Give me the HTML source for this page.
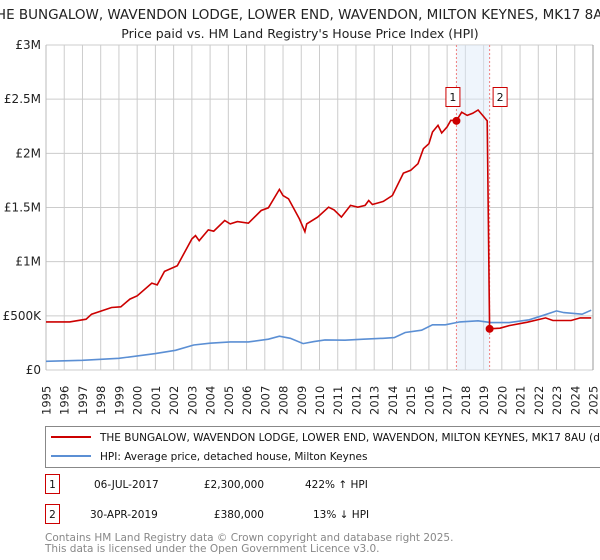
<!DOCTYPE html>
<html><head><meta charset="utf-8">
<style>
body{margin:0;width:600px;height:560px;background:#fff;font-family:"Liberation Sans","DejaVu Sans",sans-serif;overflow:hidden}
svg{position:absolute;left:0;top:0}
text{font-family:"DejaVu Sans","Liberation Sans",sans-serif}
</style></head>
<body>
<svg id="chart" width="600" height="560">
  <text x="300" y="19" text-anchor="middle" font-size="13.5" fill="#222">THE BUNGALOW, WAVENDON LODGE, LOWER END, WAVENDON, MILTON KEYNES, MK17 8AU</text>
  <text x="300" y="38" text-anchor="middle" font-size="12.5" fill="#222">Price paid vs. HM Land Registry's House Price Index (HPI)</text>
  <g id="grid"></g>
  <g id="band"></g>
  <g id="yticks"></g>
  <g id="xticks"></g>
  <g id="series"></g>
  <g id="markers"></g>
  <g>
    <rect x="45.5" y="426.5" width="570" height="41" fill="#fff" stroke="#888"/>
    <line x1="51" y1="437" x2="91" y2="437" stroke="#cc0000" stroke-width="2"/>
    <text x="100" y="441" font-size="10.5" fill="#111">THE BUNGALOW, WAVENDON LODGE, LOWER END, WAVENDON, MILTON KEYNES, MK17 8AU (detached house)</text>
    <line x1="51" y1="456" x2="91" y2="456" stroke="#5b8fd4" stroke-width="2"/>
    <text x="100" y="460" font-size="10.5" fill="#111">HPI: Average price, detached house, Milton Keynes</text>
  </g>
  <g font-size="10.5" fill="#111">
    <rect x="45.5" y="474.5" width="14" height="19" fill="#fff" stroke="#cc0000"/>
    <text x="52.5" y="488" text-anchor="middle">1</text>
    <text x="94" y="488">06-JUL-2017</text>
    <text x="264" y="488" text-anchor="end">£2,300,000</text>
    <text x="305" y="488">422% ↑ HPI</text>
    <rect x="45.5" y="504.5" width="14" height="19" fill="#fff" stroke="#cc0000"/>
    <text x="52.5" y="518" text-anchor="middle">2</text>
    <text x="90" y="518">30-APR-2019</text>
    <text x="264" y="518" text-anchor="end">£380,000</text>
    <text x="313" y="518">13% ↓ HPI</text>
  </g>
  <text x="45" y="541" font-size="10.5" fill="#888">Contains HM Land Registry data © Crown copyright and database right 2025.</text>
  <text x="45" y="552" font-size="10.5" fill="#888">This data is licensed under the Open Government Licence v3.0.</text>
</svg>
<script>
const yearTicks=[1995,1996,1997,1998,1999,2000,2001,2002,2003,2004,2005,2006,2007,2008,2009,2010,2011,2012,2013,2014,2015,2016,2017,2018,2019,2020,2021,2022,2023,2024,2025];
const priceTicks=[0,500,1000,1500,2000,2500,3000];
const priceTickLabels=["£0","£500K","£1M","£1.5M","£2M","£2.5M","£3M"];
const redYears=[1995,1996.3,1997.2,1997.5,1998.6,1999.1,1999.6,2000,2000.8,2001.1,2001.5,2002.2,2003,2003.2,2003.4,2003.9,2004.2,2004.8,2005.1,2005.5,2006.1,2006.8,2007.2,2007.8,2008,2008.3,2008.9,2009.2,2009.3,2009.9,2010.5,2010.8,2011.2,2011.7,2012.1,2012.5,2012.7,2012.9,2013.5,2014,2014.6,2015,2015.4,2015.7,2016,2016.2,2016.5,2016.7,2017,2017.2,2017.51,2017.8,2018.1,2018.4,2018.7,2019.0,2019.2,2019.33,2019.9,2020.4,2021.4,2022.4,2022.8,2023.8,2024.3,2024.9];
const redValues=[444,444,469,515,577,583,654,685,802,786,910,963,1210,1241,1194,1293,1281,1380,1349,1370,1355,1472,1497,1667,1611,1580,1395,1277,1349,1411,1503,1478,1411,1519,1503,1519,1565,1528,1556,1611,1818,1843,1904,2043,2089,2197,2259,2188,2244,2305,2300,2380,2350,2370,2400,2340,2300,380,386,410,441,481,457,457,481,481];
const hpiYears=[1995,1997,1999,2001,2002.1,2003.1,2004,2005.1,2006.1,2007.2,2007.8,2008.4,2009.1,2009.7,2010.3,2011.4,2012.4,2013.5,2014.1,2014.7,2015.6,2016.2,2016.9,2017.7,2018.7,2019.4,2020.4,2021.5,2022.3,2023,2023.4,2024.4,2024.9];
const hpiValues=[80,90,108,151,182,231,247,259,259,284,312,293,244,262,278,275,284,293,299,346,367,417,417,444,454,438,438,463,506,546,530,515,552];
const saleYears=[2017.51,2019.33];
const saleValues=[2300,380];
const saleLabels=["1","2"];

const NS="http://www.w3.org/2000/svg";
const X0=46,X1=593,Y0=370,Y1=45;
const xs=y=>X0+(y-1995)/30*(X1-X0);
const ys=v=>Y0-v/3000*(Y0-Y1);
function mk(tag,attrs,parent){const e=document.createElementNS(NS,tag);for(const k in attrs)e.setAttribute(k,attrs[k]);parent.appendChild(e);return e;}
const grid=document.getElementById('grid'),band=document.getElementById('band'),yt=document.getElementById('yticks'),xt=document.getElementById('xticks'),ser=document.getElementById('series'),mkG=document.getElementById('markers');
priceTicks.forEach((v,i)=>{
  const l=mk('line',{x1:X0,x2:X1,y1:ys(v),y2:ys(v),stroke:'#cccccc','stroke-width':1},grid);
  
  
  const t=mk('text',{x:X0-5,y:ys(v)+4,'text-anchor':'end','font-size':12,fill:'#222'},yt);
  t.textContent=priceTickLabels[i];
  
  
});
yearTicks.forEach(y=>{
  const l=mk('line',{x1:xs(y),x2:xs(y),y1:Y1,y2:Y0,stroke:'#cccccc','stroke-width':1},grid);
  
  
  const t=mk('text',{x:0,y:0,transform:`translate(${xs(y)+4.5},415) rotate(-90)`,'font-size':11.5,fill:'#222'},xt);
  t.textContent=y;
  
  
});
const ax=mk('line',{x1:X0,x2:X0,y1:Y1,y2:Y0,stroke:'#bbb'},grid);


const rb=mk('line',{x1:X1,x2:X1,y1:Y1,y2:Y0,stroke:'#999'},grid);


const b=mk('rect',{x:xs(saleYears[0]),y:Y1,width:xs(saleYears[1])-xs(saleYears[0]),height:Y0-Y1,fill:'#dce8f8','fill-opacity':0.45},band);


saleYears.forEach(y=>{
  const l=mk('line',{x1:xs(y),x2:xs(y),y1:Y1,y2:Y0,stroke:'#f08080','stroke-dasharray':'2,2'},band);
  
  
});
const pts=(xa,va)=>xa.map((y,i)=>xs(y).toFixed(1)+','+ys(va[i]).toFixed(1)).join(' ');
const hp=mk('polyline',{points:pts(hpiYears,hpiValues),fill:'none',stroke:'#5b8fd4','stroke-width':1.6},ser);


const rp=mk('polyline',{points:pts(redYears,redValues),fill:'none',stroke:'#cc0000','stroke-width':1.6},ser);


saleYears.forEach((y,i)=>{
  const c=mk('circle',{cx:xs(y),cy:ys(saleValues[i]),r:4,fill:'#cc0000'},mkG);
  
  
  const bx=xs(y)+(i===0?-10:4);
  const r=mk('rect',{x:bx-0.5,y:87.5,width:14,height:19,fill:'#fff',stroke:'#cc0000'},mkG);
  
  
  const t=mk('text',{x:bx+6.5,y:101,'text-anchor':'middle','font-size':11,fill:'#111'},mkG);
  t.textContent=saleLabels[i];
  
  
});
</script>
</body></html>
